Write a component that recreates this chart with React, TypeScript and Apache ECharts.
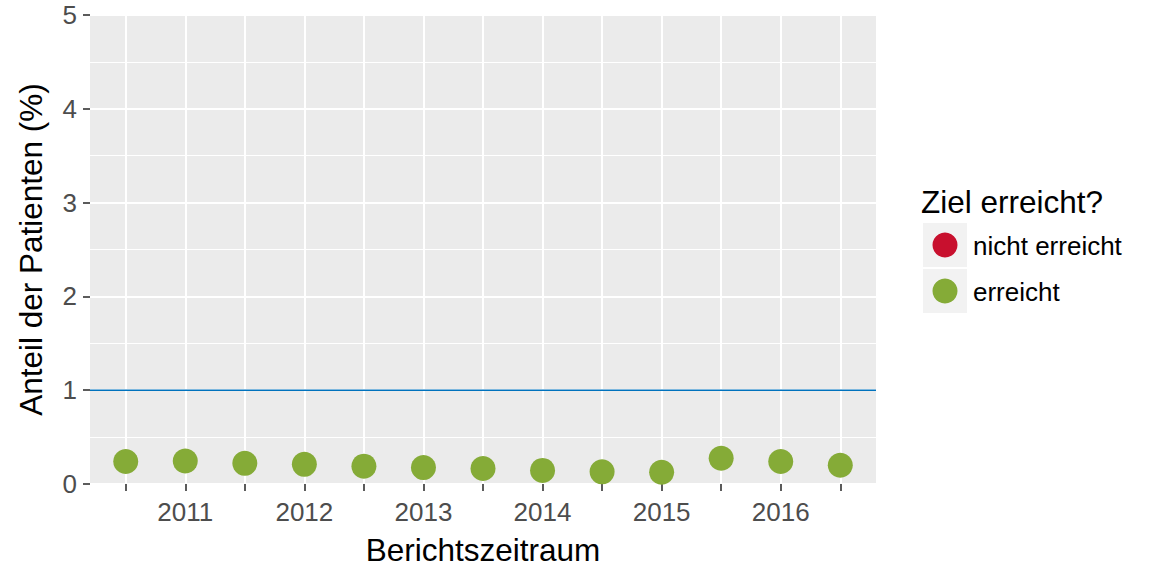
import React, { useEffect, useRef } from "react";
import * as echarts from "echarts";

// ---- data ----
const periodIndex = [0, 1, 2, 3, 4, 5, 6, 7, 8, 9, 10, 11, 12];
const xTickLabels = ["", "2011", "", "2012", "", "2013", "", "2014", "", "2015", "", "2016", ""];
const shareValues = [0.24, 0.245, 0.22, 0.21, 0.19, 0.175, 0.165, 0.145, 0.13, 0.125, 0.275, 0.24, 0.2];
const targetValue = 1;
const yTicks = [0, 1, 2, 3, 4, 5];
const legendTitle = "Ziel erreicht?";
const legendNames = ["nicht erreicht", "erreicht"];
const legendColors = ["#C8102E", "#85AB37"];
const xAxisTitle = "Berichtszeitraum";
const yAxisTitle = "Anteil der Patienten (%)";

const FONT = "Liberation Sans, Arial, sans-serif";

export default function App() {
  const ref = useRef<HTMLDivElement>(null);

  useEffect(() => {
    document.body.style.margin = "0";
    if (!ref.current) return;
    const chart = echarts.init(ref.current, null, { renderer: "svg" });

    const panelLeft = 90;
    const panelTop = 15;
    const panelW = 786;
    const panelH = 469;
    const unit = panelW / 13.2;
    const dataLeft = panelLeft + 0.6 * unit;
    const dataW = 12 * unit;

    const option: any = {
      animation: false,
      backgroundColor: "#FFFFFF",
      textStyle: { fontFamily: FONT },
      grid: [
        {
          left: panelLeft,
          top: panelTop,
          width: panelW,
          height: panelH,
          show: true,
          backgroundColor: "#EBEBEB",
          borderWidth: 0,
        },
        {
          left: dataLeft,
          top: panelTop,
          width: dataW,
          height: panelH,
          show: false,
        },
      ],
      xAxis: [
        {
          gridIndex: 0,
          type: "value",
          min: 0,
          max: 1,
          show: false,
        },
        {
          gridIndex: 1,
          type: "value",
          min: 0,
          max: periodIndex.length - 1,
          interval: 1,
          axisLine: { show: false },
          axisTick: { show: true, length: 7, lineStyle: { color: "#333333", width: 1.6 } },
          axisLabel: {
            margin: 15,
            fontSize: 26,
            color: "#4D4D4D",
            fontFamily: FONT,
            formatter: (v: number) => xTickLabels[Math.round(v)] ?? "",
          },
          splitLine: { show: true, lineStyle: { color: "#FFFFFF", width: 2 } },
          name: xAxisTitle,
          nameLocation: "middle",
          nameGap: 50,
          nameTextStyle: { fontSize: 31.5, color: "#000000", fontFamily: FONT },
        },
      ],
      yAxis: [
        {
          gridIndex: 0,
          type: "value",
          min: yTicks[0],
          max: yTicks[yTicks.length - 1],
          interval: 1,
          axisLine: { show: false },
          axisTick: { show: true, length: 7, lineStyle: { color: "#333333", width: 1.6 } },
          axisLabel: { margin: 13, fontSize: 26, color: "#4D4D4D", fontFamily: FONT },
          splitLine: { show: true, lineStyle: { color: "#FFFFFF", width: 2 } },
          minorTick: { show: false, splitNumber: 2 },
          minorSplitLine: { show: true, lineStyle: { color: "#FFFFFF", width: 1 } },
          name: yAxisTitle,
          nameLocation: "middle",
          nameGap: 43,
          nameRotate: 90,
          nameTextStyle: { fontSize: 31.5, color: "#000000", fontFamily: FONT },
        },
        {
          gridIndex: 1,
          type: "value",
          min: yTicks[0],
          max: yTicks[yTicks.length - 1],
          show: false,
          splitLine: { show: false },
        },
      ],
      series: [
        {
          type: "line",
          xAxisIndex: 0,
          yAxisIndex: 0,
          data: [
            [0, targetValue],
            [1, targetValue],
          ],
          symbol: "none",
          lineStyle: { color: "#0072BD", width: 1.6 },
          silent: true,
          z: 3,
        },
        {
          name: legendNames[0],
          type: "scatter",
          xAxisIndex: 1,
          yAxisIndex: 1,
          data: [],
          itemStyle: { color: legendColors[0] },
        },
        {
          name: legendNames[1],
          type: "scatter",
          xAxisIndex: 1,
          yAxisIndex: 1,
          symbolSize: 25,
          data: periodIndex.map((i) => [i, shareValues[i]]),
          itemStyle: { color: legendColors[1], opacity: 1 },
          z: 5,
        },
      ],
      graphic: [
        {
          type: "text",
          left: 921,
          top: 186,
          style: { text: legendTitle, fontSize: 31.5, fill: "#000000", fontFamily: FONT },
        },
        ...legendNames.flatMap((name, i) => [
          {
            type: "rect",
            shape: { x: 923, y: 223 + i * 46, width: 44, height: 44 },
            style: { fill: "#F2F2F2" },
          },
          {
            type: "circle",
            shape: { cx: 945, cy: 245 + i * 46, r: 12.5 },
            style: { fill: legendColors[i] },
          },
          {
            type: "text",
            x: 973,
            y: 246 + i * 46,
            style: {
              text: name,
              fontSize: 26,
              fill: "#000000",
              fontFamily: FONT,
              textVerticalAlign: "middle",
              verticalAlign: "middle",
            },
          },
        ]),
      ],
    };

    chart.setOption(option);
    return () => chart.dispose();
  }, []);

  return <div ref={ref} style={{ width: 1152, height: 576 }} />;
}
